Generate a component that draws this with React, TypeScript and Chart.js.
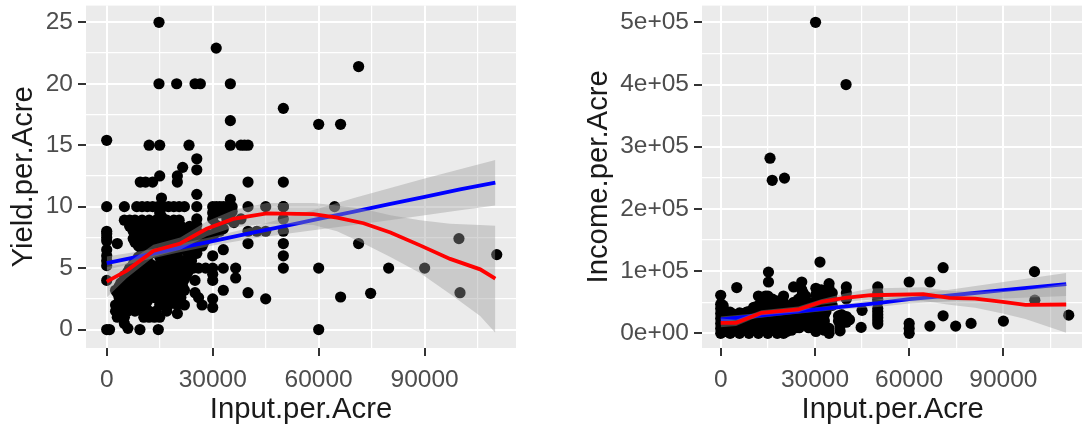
import React, { useEffect, useRef } from "react";
import { Chart, registerables } from "chart.js";

Chart.register(...registerables);

// ---------- Left panel: points (Input.per.Acre, Yield.per.Acre) ----------
const yieldInput = [
  14800, 31000, 14800, 19800, 25000, 26500, 35000, 35000, 50000, 0, 12000, 15000, 23300, 35000, 38000, 39000, 40000,
  25500, 21500, 25500, 20000, 20000, 15000, 13000, 9500, 11000, 40000, 50000, 25500, 35000, 15500,
  0, 5000, 8500, 10000, 11500, 13000, 14500, 16000, 17500, 19000, 20500, 22000, 25500, 30000, 31000, 32000, 33000, 34000, 35000, 35500, 40000, 45000, 50000,
  30000, 32000, 34000, 35500, 30000, 34000, 35000, 25500, 25500,
  30000, 33000, 30000, 30000, 30000, 33000, 36500, 36500, 33000, 40000, 45000, 40000, 42500, 45000, 40000, 38000,
  24500, 26000, 28000, 25000, 25000, 26000, 27000, 30000, 30000, 22000, 20000, 20000,
  50000, 50000, 50000, 50000, 50000, 50000,
  71300, 60000, 66200, 60000, 60000, 66200, 71300, 74700, 79800, 90000, 99700, 100000, 110400, 64500,
  0, 800, 0, 0, 0, 0, 0, 0, 0, 0, 0, 3000, 3000, 6000, 9400, 14600, 5000,
  3000, 5000, 10500, 12000, 13500, 15000,
  2500, 4000, 6000, 8000, 10000, 12000, 14000, 17000,
  2500, 5000, 7500, 10000, 15000, 17500,
  3500, 6000, 8500, 11000, 13500, 16000, 18500, 21000,
  2500, 5000, 7500, 10000, 12500, 15000, 17500, 20000, 22000,
  4000, 6500, 9000, 13500, 16000, 18500, 21000,
  5000, 7500, 10000, 12500, 15000, 17500, 20000, 22500,
  6500, 9000, 11500, 14000, 16500, 19000, 21500,
  8000, 10500, 16500, 19000, 21500, 24000,
  10000, 12500, 15000, 17500, 20000, 23000, 25500,
  9000, 11500, 14000, 16500, 19000, 21500, 24000, 27000,
  7500, 10000, 12500, 15000, 17500, 20000, 22500, 25000, 28000,
  7500, 10000, 12500, 15000, 17500, 20000, 22500, 25500, 32000,
  5000, 6500, 8000, 10000, 12000, 14000, 15500, 17000, 19000, 20500, 31000, 36000,
];
const yieldValue = [
  25, 22.9, 20, 20, 20, 20, 20, 17, 18, 15.4, 15, 15, 15, 15, 15, 15, 15,
  13.9, 13.2, 13, 12.5, 12, 12.5, 12, 12, 12, 12, 12, 11, 10.6, 10.7,
  10, 10, 10, 10, 10, 10, 10, 10, 10, 10, 10, 10, 10, 10, 10, 10, 10, 10, 10, 10, 10, 10, 10,
  9.5, 9.5, 9.5, 9.6, 9, 9, 9, 9, 8.5,
  6, 6.5, 5, 4.5, 4, 5, 5, 4.2, 3.2, 3, 2.5, 7, 8, 8, 8, 9,
  5, 5, 5, 4, 3, 2.6, 2, 2.5, 1.8, 2, 2, 1.3,
  9, 8, 7, 6, 5, 10,
  21.4, 16.7, 16.7, 5, 0, 2.65, 7, 2.95, 5, 5, 7.4, 3, 6.1, 10,
  0, 0, 4, 5.2, 5.6, 6, 6.5, 7.2, 7.5, 7.8, 8, 7, 3, 0.1, 0, 0, 0.5,
  1, 1, 1, 1, 1, 1,
  1.5, 1.5, 1.5, 1.5, 1.5, 1.5, 1.5, 1.5,
  2, 2, 2, 2, 2, 2,
  2.6, 2.6, 2.6, 2.6, 2.6, 2.6, 2.6, 2.6,
  3.2, 3.2, 3.2, 3.2, 3.2, 3.2, 3.2, 3.2, 3.2,
  3.8, 3.8, 3.8, 3.8, 3.8, 3.8, 3.8,
  4.4, 4.4, 4.4, 4.4, 4.4, 4.4, 4.4, 4.4,
  5, 5, 5, 5, 5, 5, 5,
  5.6, 5.6, 5.6, 5.6, 5.6, 5.6,
  6.2, 6.2, 6.2, 6.2, 6.2, 6.2, 6.2,
  6.8, 6.8, 6.8, 6.8, 6.8, 6.8, 6.8, 6.8,
  7.4, 7.4, 7.4, 7.4, 7.4, 7.4, 7.4, 7.4, 7.4,
  8, 8, 8, 8, 8, 8, 8, 8, 8,
  8.9, 8.9, 8.9, 8.9, 8.9, 8.9, 8.9, 8.9, 8.9, 8.9, 8.5, 8.7,
];
const yieldInputDense = [
  4000, 6500, 9000, 11500, 16500, 19000,
  4500, 7000, 9500, 12000, 14500, 17000, 19500,
  3500, 6000, 8500, 11500, 14000, 16500, 19000, 21500,
  5500, 8000, 10500, 13000, 15500, 18000, 20500, 22000,
  6000, 8500, 11000, 13500, 16000, 18500, 21000, 23000,
  7500, 10000, 12500, 15000, 17500, 20000, 22500,
  9000, 11500, 15000, 17500, 20000, 24000,
  10500, 13000, 15500, 18000, 20500, 23000, 25500,
  8000, 10500, 13000, 15500, 18000, 20500, 23000, 25500, 27500,
  8500, 11000, 13500, 16000, 18500, 21000, 23500, 26500, 29000,
  6500, 8500, 11000, 13500, 16000, 18500, 21000, 23500,
  15000, 15500, 28500, 30500, 33000,
];
const yieldValueDense = [
  2.3, 2.3, 2.3, 2.3, 2.3, 2.3,
  2.9, 2.9, 2.9, 2.9, 2.9, 2.9, 2.9,
  3.5, 3.5, 3.5, 3.5, 3.5, 3.5, 3.5, 3.5,
  4.1, 4.1, 4.1, 4.1, 4.1, 4.1, 4.1, 4.1,
  4.7, 4.7, 4.7, 4.7, 4.7, 4.7, 4.7, 4.7,
  5.3, 5.3, 5.3, 5.3, 5.3, 5.3, 5.3,
  5.9, 5.9, 5.9, 5.9, 5.9, 5.9,
  6.5, 6.5, 6.5, 6.5, 6.5, 6.5, 6.5,
  7.1, 7.1, 7.1, 7.1, 7.1, 7.1, 7.1, 7.1, 7.1,
  7.7, 7.7, 7.7, 7.7, 7.7, 7.7, 7.7, 7.7, 7.7,
  8.4, 8.4, 8.4, 8.4, 8.4, 8.4, 8.4, 8.4,
  9.5, 9.2, 7.4, 7.8, 8.2,
];

// ---------- Left panel: smooths ----------
const yieldBlueX = [0, 10000, 20000, 30000, 40000, 50000, 60000, 70000, 80000, 90000, 100000, 110000];
const yieldBlueLine = [5.4, 6.0, 6.6, 7.2, 7.8, 8.4, 9.0, 9.6, 10.2, 10.8, 11.4, 11.95];
const yieldBlueUpper = [5.95, 6.4, 6.95, 7.55, 8.25, 9.05, 9.85, 10.7, 11.5, 12.3, 13.05, 13.8];
const yieldBlueLower = [4.85, 5.6, 6.25, 6.85, 7.35, 7.75, 8.15, 8.5, 8.9, 9.3, 9.7, 10.1];

const yieldRedX = [0, 5700, 13200, 20800, 28300, 35800, 45300, 58500, 65200, 72700, 80300, 88700, 97200, 105700, 110000];
const yieldRedLine = [3.9, 4.8, 6.4, 7.0, 8.2, 9.0, 9.45, 9.4, 9.1, 8.65, 7.9, 6.85, 5.75, 4.9, 4.15];
const yieldRedUpper = [5.1, 5.4, 6.9, 7.5, 8.8, 9.7, 10.3, 10.3, 10.1, 9.8, 9.3, 8.9, 8.6, 8.5, 8.45];
const yieldRedLower = [2.6, 4.2, 5.9, 6.5, 7.6, 8.3, 8.6, 8.5, 8.0, 7.0, 5.9, 4.6, 2.9, 1.1, -0.25];

// ---------- Right panel: points (Input.per.Acre, Income.per.Acre) ----------
const incomeInput = [
  30200, 39900, 15700, 16400, 20300, 31600, 15200, 15200, 5100, 0,
  70800, 99900, 60000, 66600, 100000, 110800, 90000, 79700, 74800, 66600, 70800, 60000, 60000, 60000, 44700,
  50000, 50000, 50000, 50000, 50000, 50000, 50000, 50000, 50000, 50000, 50000,
  0, 0, 0, 0, 0, 0, 0,
  1500, 1500, 1500, 1500, 1500,
  3000, 3000, 3000, 3000, 3000,
  4500, 4500, 4500, 4500,
  6000, 6000, 6000, 6000, 6000,
  7500, 7500, 7500, 7500,
  9000, 9000, 9000, 9000, 9000,
  10500, 10500, 10500, 10500, 10500,
  12000, 12000, 12000, 12000, 12000, 12000, 12000,
  13500, 13500, 13500, 13500, 13500, 13500,
  15000, 15000, 15000, 15000, 15000, 15000, 15000, 15000,
  16500, 16500, 16500, 16500, 16500, 16500,
  18000, 18000, 18000, 18000, 18000, 18000, 18000,
  19500, 19500, 19500, 19500, 19500,
  20000, 20000, 20000,
  21000, 21000, 21000, 21000,
  22500, 22500, 22500, 22500, 22500, 23200,
  24000, 24000, 24000, 24000,
  25800, 25800, 25800, 25800, 25800, 25800, 25800, 25800,
  27000, 27000, 27000, 27000,
  28500, 28500, 28500,
  30300, 30300, 30300, 30300, 30300, 30300, 30300, 30300,
  32000, 32000, 33000, 33000, 33000,
  34500, 34500, 34500, 34500, 34500, 34500,
  37500, 37500, 38000, 38000,
  40000, 40000, 40000, 40000, 40000, 41000, 38500, 45000,
];
const incomeValue = [
  500000, 400000, 281600, 246000, 249600, 114600, 98500, 82600, 73600, 61300,
  105600, 99200, 82600, 82600, 53300, 29300, 19700, 16000, 11700, 11700, 28200, 16000, 8000, 0, 9600,
  74600, 65000, 60000, 55000, 50000, 40000, 35000, 30000, 25000, 20000, 15000,
  0, 8000, 16000, 24000, 32000, 40000, 47000,
  3000, 12000, 20000, 28000, 36000,
  0, 8000, 16000, 24000, 34000,
  5000, 13000, 22000, 30000,
  0, 9000, 18000, 27000, 33000,
  5000, 14000, 23000, 32000,
  0, 9000, 18000, 27000, 35000,
  5000, 14000, 23000, 32000, 42000,
  0, 9000, 18000, 27000, 36000, 45000, 60000,
  5000, 14000, 23000, 32000, 41000, 50000,
  0, 9000, 18000, 27000, 36000, 45000, 52000, 60000,
  5000, 14000, 23000, 32000, 41000, 55000,
  0, 9000, 18000, 27000, 36000, 45000, 52000,
  5000, 14000, 23000, 32000, 41000,
  0, 60000, 50000,
  9000, 18000, 27000, 36000,
  5000, 14000, 23000, 32000, 45000, 74600,
  9000, 18000, 27000, 36000,
  82600, 70000, 60000, 50000, 45000, 35000, 25000, 15000,
  60000, 38000, 28000, 18000,
  32000, 22000, 14000,
  72500, 62000, 52000, 42000, 32000, 22000, 12000, 3000,
  60000, 70000, 5000, 20000, 30000,
  80000, 72000, 64000, 56000, 8000, 0,
  28000, 20000, 12000, 4000,
  74600, 65000, 55000, 27000, 18000, 22000, 30000, 37000,
];
const incomeInputDense = [
  750, 750, 750, 750,
  2250, 2250, 2250,
  3750, 3750, 3750,
  5250, 5250, 5250,
  6750, 6750, 6750, 6750,
  8250, 8250, 8250, 8250,
  9750, 9750, 9750, 9750,
  11250, 11250, 11250, 11250,
  12750, 12750, 12750, 12750, 12750,
  14250, 14250, 14250, 14250, 14250, 14250,
  15750, 15750, 15750, 15750, 15750, 15750,
  17250, 17250, 17250, 17250, 17250,
  18750, 18750, 18750, 18750, 18750,
  20250, 20250, 20250, 20250,
  21750, 21750, 21750, 21750,
  23250, 23250, 23250, 23250,
  24750, 24750, 24750, 24750, 24750,
  26250, 26250, 26250, 26250,
  27750, 27750, 27750, 27750,
  29000, 29000, 29000,
  31500, 31500, 31500, 31500,
  33500, 33500, 33500,
  35500, 35500, 35500,
  21000, 25000, 28000,
];
const incomeValueDense = [
  5000, 20000, 35000, 45000,
  8000, 18000, 30000,
  3000, 18000, 28000,
  8000, 18000, 26000,
  4000, 14000, 24000, 30000,
  8000, 18000, 28000, 34000,
  4000, 14000, 24000, 36000,
  8000, 18000, 28000, 38000,
  4000, 14000, 24000, 34000, 44000,
  8000, 18000, 28000, 38000, 50000, 60000,
  4000, 14000, 24000, 34000, 44000, 55000,
  8000, 18000, 28000, 38000, 48000,
  4000, 14000, 24000, 34000, 44000,
  8000, 18000, 28000, 38000,
  14000, 24000, 34000, 44000,
  18000, 28000, 38000, 50000,
  14000, 24000, 34000, 44000, 55000,
  18000, 28000, 38000, 65000,
  20000, 30000, 40000, 50000,
  13000, 25000, 35000,
  13000, 28000, 40000, 65000,
  10000, 35000, 45000,
  45000, 55000, 65000,
  3000, 9000, 9000,
];

// ---------- Right panel: smooths ----------
const incomeBlueX = [0, 10000, 20000, 30000, 40000, 50000, 60000, 70000, 80000, 90000, 100000, 110000];
const incomeBlueLine = [22400, 27500, 32500, 38000, 43500, 48500, 55000, 59500, 64500, 69500, 74500, 79000];
const incomeBlueUpper = [27000, 31500, 36000, 41500, 48000, 54500, 62000, 68000, 75500, 82700, 90000, 97000];
const incomeBlueLower = [17800, 23500, 29000, 34500, 39000, 42500, 48000, 51000, 53500, 56000, 58000, 60000];

const incomeRedX = [0, 4900, 13000, 24700, 32000, 39500, 47800, 64500, 72800, 81000, 89800, 97000, 110000];
const incomeRedLine = [17000, 17000, 33000, 38400, 50600, 57000, 61300, 63000, 57000, 56000, 50500, 45800, 46400];
const incomeRedUpper = [24000, 22000, 37000, 43000, 55000, 64000, 72000, 74000, 68000, 67000, 68000, 70000, 80000];
const incomeRedLower = [10000, 12000, 29000, 34000, 46000, 51000, 54000, 52000, 46000, 41000, 32000, 23000, 1000];

// ---------- Ticks ----------
const xMajor = [0, 30000, 60000, 90000];
const xMinor = [15000, 45000, 75000, 105000];
const xLabels = ["0", "30000", "60000", "90000"];
const yieldMajor = [0, 5, 10, 15, 20, 25];
const yieldMinor = [2.5, 7.5, 12.5, 17.5, 22.5];
const yieldLabels = ["0", "5", "10", "15", "20", "25"];
const incomeMajor = [0, 100000, 200000, 300000, 400000, 500000];
const incomeMinor = [50000, 150000, 250000, 350000, 450000];
const incomeLabels = ["0e+00", "1e+05", "2e+05", "3e+05", "4e+05", "5e+05"];

const FONT = "'Liberation Sans', Arial, sans-serif";
const pairs = (xs: number[], ys: number[]) => xs.map((x, i) => ({ x, y: ys[i] }));

const panelBg = {
  id: "panelBg",
  beforeDraw(chart: any) {
    const { ctx, chartArea: a } = chart;
    ctx.save();
    ctx.fillStyle = "#ebebeb";
    ctx.fillRect(a.left, a.top, a.right - a.left, a.bottom - a.top);
    ctx.restore();
  },
};

function axis(opts: {
  major: number[]; minor: number[]; labels: string[]; min: number; max: number;
  title: string; titlePad: any; size: number; horizontal: boolean;
}) {
  const { major, minor, labels, min, max, title, titlePad, size, horizontal } = opts;
  const isMajor = (v: number) => major.includes(v);
  return {
    type: "linear",
    min,
    max,
    afterBuildTicks(s: any) {
      s.ticks = [...major, ...minor].sort((a, b) => a - b).map((value) => ({ value }));
    },
    afterFit(s: any) {
      if (horizontal) s.height = size; else s.width = size;
      s.paddingLeft = s.paddingRight = s.paddingTop = s.paddingBottom = 0;
    },
    border: { display: false },
    grid: {
      color: "#ffffff",
      lineWidth: (c: any) => (c.tick && isMajor(c.tick.value) ? 2 : 1.2),
      tickColor: (c: any) => (c.tick && isMajor(c.tick.value) ? "#333333" : "rgba(0,0,0,0)"),
      tickWidth: 2,
      tickLength: 8,
    },
    ticks: {
      autoSkip: false,
      minRotation: 0,
      maxRotation: 0,
      padding: horizontal ? 10 : 5,
      color: "#4d4d4d",
      font: { family: FONT, size: 24.5 },
      callback: (v: number) => (isMajor(v) ? labels[major.indexOf(v)] : ""),
    },
    title: { display: true, text: title, color: "#1a1a1a", font: { family: FONT, size: 29.3 }, padding: titlePad },
  };
}

function datasets(s: any) {
  const band = (x: number[], y: number[], fill: any, order: number) => ({
    type: "line", data: pairs(x, y), borderWidth: 0, pointRadius: 0, fill,
    backgroundColor: "rgba(153,153,153,0.4)", order,
  });
  const line = (x: number[], y: number[], color: string, order: number) => ({
    type: "line", data: pairs(x, y), borderColor: color, borderWidth: 3.8, pointRadius: 0, fill: false, tension: 0, order,
  });
  return [
    { type: "scatter", data: pairs(s.px, s.py), pointRadius: 5.6, pointBorderWidth: 0, pointBackgroundColor: "#000000", order: 7 },
    band(s.bx, s.bu, "+1", 6),
    band(s.bx, s.bl, false, 5),
    line(s.bx, s.b, "#0000ff", 4),
    band(s.rx, s.ru, "+1", 3),
    band(s.rx, s.rl, false, 2),
    line(s.rx, s.r, "#ff0000", 1),
  ];
}

function makeChart(canvas: HTMLCanvasElement, s: any, xAxis: any, yAxis: any, paddingRight: number) {
  return new Chart(canvas, {
    type: "scatter",
    data: { datasets: datasets(s) as any },
    plugins: [panelBg],
    options: {
      animation: false,
      responsive: false,
      layout: { padding: { top: 4, right: paddingRight, left: 0, bottom: 0 } },
      plugins: { legend: { display: false }, tooltip: { enabled: false }, title: { display: false } },
      scales: { x: xAxis, y: yAxis },
    } as any,
  });
}

export default function App() {
  const leftRef = useRef<HTMLCanvasElement>(null);
  const rightRef = useRef<HTMLCanvasElement>(null);

  useEffect(() => {
    const left = makeChart(
      leftRef.current!,
      { px: [...yieldInput, ...yieldInputDense], py: [...yieldValue, ...yieldValueDense],
        bx: yieldBlueX, b: yieldBlueLine, bu: yieldBlueUpper, bl: yieldBlueLower,
        rx: yieldRedX, r: yieldRedLine, ru: yieldRedUpper, rl: yieldRedLower },
      axis({ major: xMajor, minor: xMinor, labels: xLabels, min: -5860, max: 115850, title: "Input.per.Acre",
        titlePad: { top: 0, bottom: 0 }, size: 79, horizontal: true }),
      axis({ major: yieldMajor, minor: yieldMinor, labels: yieldLabels, min: -1.5, max: 26.36, title: "Yield.per.Acre",
        titlePad: { top: 6, bottom: 6 }, size: 86, horizontal: false }),
      44,
    );
    const right = makeChart(
      rightRef.current!,
      { px: [...incomeInput, ...incomeInputDense], py: [...incomeValue, ...incomeValueDense],
        bx: incomeBlueX, b: incomeBlueLine, bu: incomeBlueUpper, bl: incomeBlueLower,
        rx: incomeRedX, r: incomeRedLine, ru: incomeRedUpper, rl: incomeRedLower },
      axis({ major: xMajor, minor: xMinor, labels: xLabels, min: -5960, max: 115470, title: "Input.per.Acre",
        titlePad: { top: 0, bottom: 0 }, size: 79, horizontal: true }),
      axis({ major: incomeMajor, minor: incomeMinor, labels: incomeLabels, min: -23520, max: 526880, title: "Income.per.Acre",
        titlePad: { top: 21, bottom: 21 }, size: 142, horizontal: false }),
      0,
    );
    return () => {
      left.destroy();
      right.destroy();
    };
  }, []);

  return (
    <div style={{ position: "absolute", left: 0, top: 0, width: 1082, height: 427, overflow: "hidden", background: "#ffffff" }}>
      <canvas ref={leftRef} width={560} height={427} style={{ position: "absolute", left: 0, top: 0, display: "block" }} />
      <canvas ref={rightRef} width={529} height={427} style={{ position: "absolute", left: 560, top: 0, display: "block" }} />
    </div>
  );
}
